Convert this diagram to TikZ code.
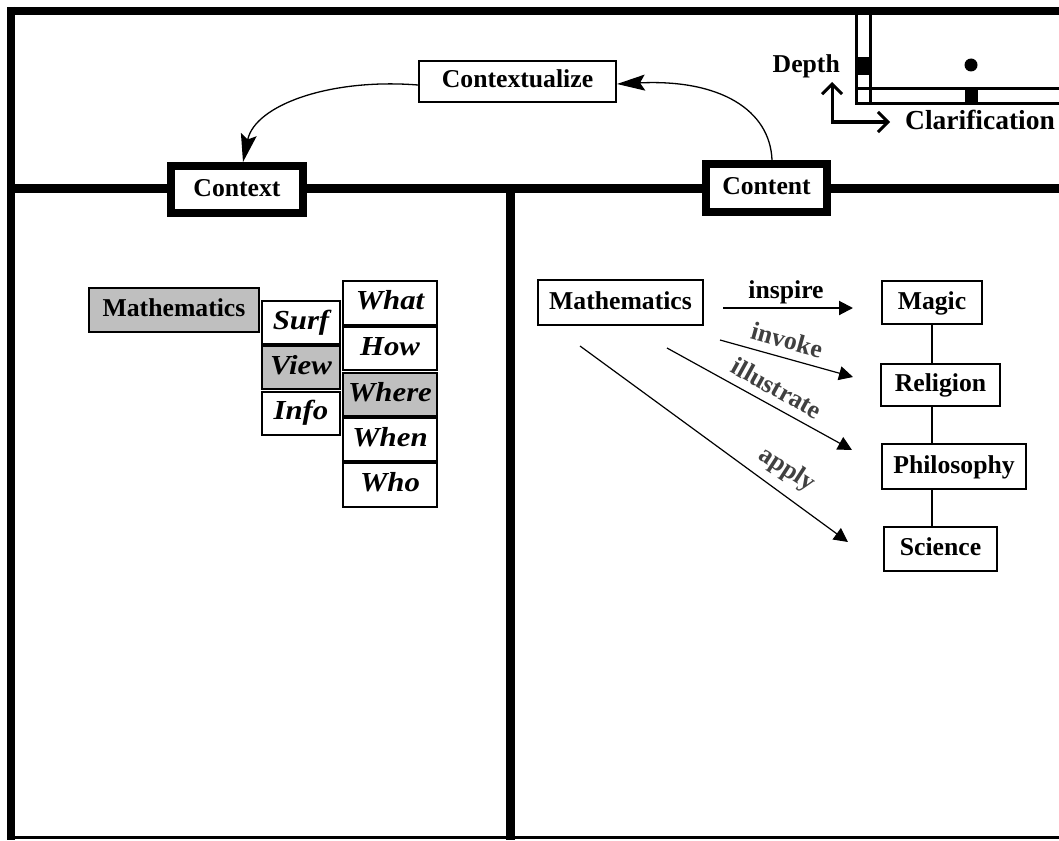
\documentclass[tikz,border=0pt]{standalone}
\usepackage{fontspec}
\setmainfont{Liberation Serif}
\newfontfamily\tabfont[FakeStretch=1.12]{Liberation Serif}
\usetikzlibrary{arrows.meta}

\begin{document}
\begin{tikzpicture}[x=1pt,y=-1pt,
  txt/.style={font=\fontsize{25.7}{30}\selectfont\bfseries,text height=18pt,text depth=5pt},
  itxt/.style={font=\tabfont\fontsize{27.5}{30}\selectfont\bfseries\itshape,text height=18pt,text depth=5pt},
  box/.style={draw,line width=2pt,fill=white,inner sep=0pt,txt},
  tab/.style={draw,line width=2pt,fill=white,inner sep=0pt,itxt},
  sel/.style={fill=gray!50},
  panel/.style={draw,line width=8pt,fill=white,inner sep=0pt,txt},
  frame/.style={line width=8pt},
  divider/.style={line width=9pt},
  rule/.style={line width=3pt},
  bigarrow/.style={line width=1.3pt,-{Stealth[length=28pt,width=16pt,inset=5pt]}},
  rel/.style={line width=1.2pt,-{Triangle[length=14pt,width=14pt]}},
  link/.style={line width=1.5pt},
  lbl/.style={font=\fontsize{25.7}{30}\selectfont\bfseries,text=black!75,inner sep=0pt},
  axis/.style={line width=3pt,{Straight Barb[length=10pt,width=20pt]}-{Straight Barb[length=10pt,width=20pt]}}
]
\useasboundingbox (0,0) rectangle (1059,840);

% outer frame
\draw[frame] (11,7) -- (11,840);
\draw[frame] (7,11) -- (1059,11);
\draw[line width=2.5pt] (7,837.5) -- (1059,837.5);

% panel dividers
\draw[divider] (11,188.5) -- (1059,188.5);
\draw[divider] (510.5,188.5) -- (510.5,840);

% small orientation sketch, top right
\draw[rule] (856,11) -- (856,103.5) -- (1059,103.5);
\draw[rule] (870,11) -- (870,103.5);
\draw[rule] (856,88.5) -- (1059,88.5);
\fill (857.5,57) rectangle (868.5,75);
\fill (965,88) rectangle (978,103);
\fill (971,65) circle[radius=6.5pt];
\node[txt,anchor=base east,inner sep=0pt] (depth) at (840,73) {Depth};
\node[txt,anchor=base west,inner sep=0pt,font=\fontsize{27.5}{30}\selectfont\bfseries] (clar) at (905,129) {Clarification};
\coordinate (upTip) at (832,82);
\coordinate (rightTip) at (890,122);
\draw[axis] (upTip) |- (rightTip);

% panel headers
\node[box,minimum width=197pt,minimum height=41pt] (ctxz) at (517.5,81.5) {Contextualize};
\node[panel,minimum width=132pt,minimum height=47pt] (context) at (237,189.5) {Context};
\node[panel,minimum width=121pt,minimum height=48pt] (content) at (766.5,188) {Content};

\draw[bigarrow] ([yshift=-3.5pt]ctxz.west) .. controls (330,78) and (255,105) .. ([xshift=6pt]context.north);
\draw[bigarrow] ([xshift=5.5pt]content.north) .. controls (770,110) and (720,79) .. ([yshift=-2.5pt]ctxz.east);

% context panel
\node[box,sel,minimum width=170pt,minimum height=44pt] (mathL) at (174,310) {Mathematics};
\node[tab,minimum width=78pt,minimum height=43pt] (surf) at (301,322.5) {Surf};
\node[tab,sel,minimum width=78pt,minimum height=43pt] (view) at (301,367.5) {View};
\node[tab,minimum width=78pt,minimum height=43pt] (info) at (301,413) {Info};
\node[tab,minimum width=94pt,minimum height=43.5pt] (what) at (390,303) {What};
\node[tab,minimum width=94pt,minimum height=43.5pt] (how) at (390,348.5) {How};
\node[tab,sel,minimum width=94pt,minimum height=43.5pt] (where) at (390,394.5) {Where};
\node[tab,minimum width=94pt,minimum height=43.5pt] (when) at (390,439.5) {When};
\node[tab,minimum width=94pt,minimum height=43.5pt] (who) at (390,485) {Who};

% content panel
\node[box,minimum width=165pt,minimum height=45pt] (mathR) at (620.5,302.5) {Mathematics};
\node[box,minimum width=100pt,minimum height=43pt] (magic) at (932,302.5) {Magic};
\node[box,minimum width=119pt,minimum height=42pt] (religion) at (940.5,385) {Religion};
\node[box,minimum width=144pt,minimum height=45pt] (philo) at (954,466.5) {Philosophy};
\node[box,minimum width=113pt,minimum height=44pt] (science) at (940.5,549) {Science};

\draw[link] (magic.south) -- (magic.south |- religion.north);
\draw[link] (religion.south -| magic.south) -- (philo.north -| magic.south);
\draw[link] (philo.south -| magic.south) -- (science.north -| magic.south);

\coordinate (inspireA) at (723,308);
\coordinate (inspireB) at (853,308);
\coordinate (invokeA) at (720,340);
\coordinate (invokeB) at (853,377);
\coordinate (illusA) at (667,348);
\coordinate (illusB) at (852,450);
\coordinate (applyA) at (580,346);
\coordinate (applyB) at (848,542);

\draw[rel,line width=2pt] (inspireA) -- (inspireB);
\draw[rel] (invokeA) -- (invokeB);
\draw[rel] (illusA) -- (illusB);
\draw[rel] (applyA) -- (applyB);

\node[lbl,text=black] (inspire) at (786,292) {inspire};
\node[lbl,rotate=-15.5] (invoke) at (787,340) {invoke};
\node[lbl,rotate=-29] (illustrate) at (777,388) {illustrate};
\node[lbl,rotate=-33] (apply) at (787,470) {apply};
\end{tikzpicture}
\end{document}
